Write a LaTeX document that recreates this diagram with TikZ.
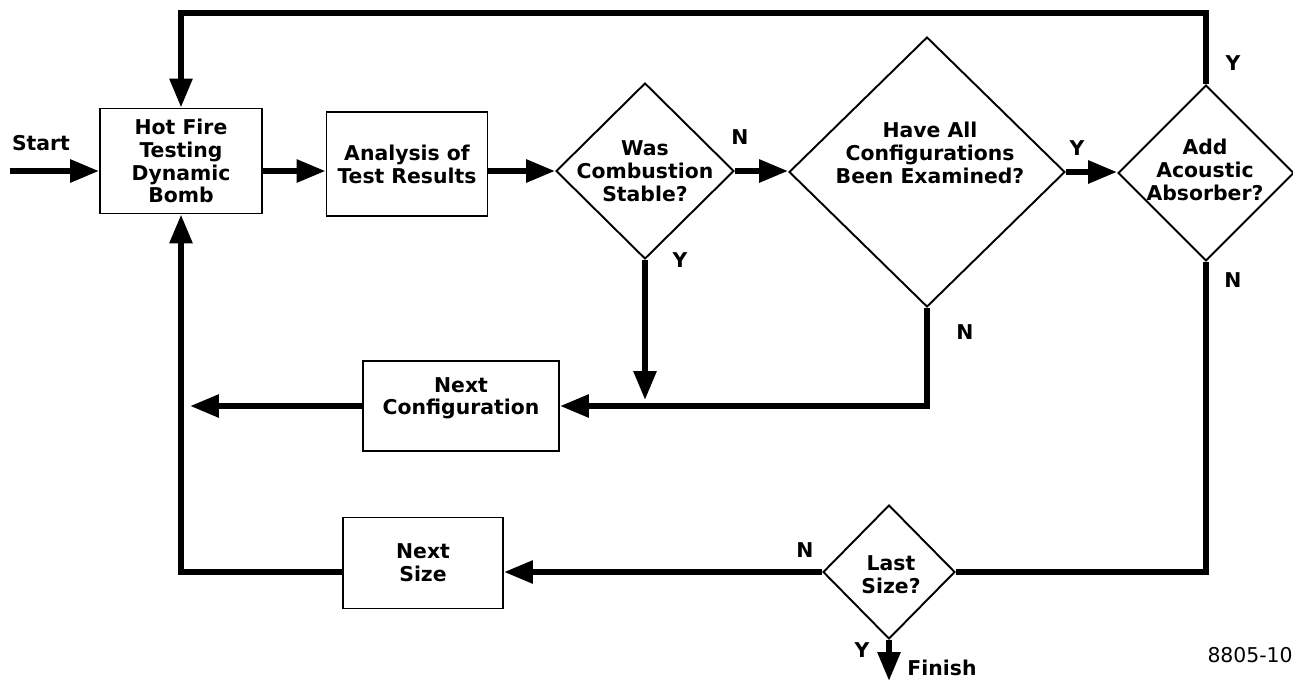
\documentclass[tikz,border=0pt]{standalone}
\usepackage{fontspec}
\setmainfont{DejaVu Sans}
\usetikzlibrary{arrows.meta,positioning,shapes.geometric}

\begin{document}
\begin{tikzpicture}[
  x=0.02cm,y=-0.02cm,
  font=\fontsize{11.6}{13}\selectfont\bfseries,
  box/.style={draw,line width=1.1pt,align=center,inner sep=0pt},
  dec/.style={draw,diamond,aspect=1,line width=1.1pt,inner sep=0pt},
  txt/.style={align=center,inner sep=0pt},
  lbl/.style={inner sep=0pt},
  flow/.style={line width=3.4pt},
  arr/.style={flow,-{Triangle[length=16.5pt,width=12.5pt]}}
]
\useasboundingbox (0,0) rectangle (1293,683);

\node[box,minimum width=3.24cm,minimum height=2.1cm] (hotfire) at (181,161) {Hot Fire\\Testing\\Dynamic\\Bomb};
\node[box,minimum width=3.22cm,minimum height=2.08cm] (analysis) at (407,164) {Analysis of\\Test Results};
\node[dec,minimum width=3.56cm,minimum height=3.52cm] (stable) at (645,171) {};
\node[dec,minimum width=5.52cm,minimum height=5.4cm] (allcfg) at (927,172) {};
\node[dec,minimum width=3.52cm,minimum height=3.52cm] (absorber) at (1206,173) {};
\node[box,minimum width=3.92cm,minimum height=1.8cm,text depth=0.4cm] (nextcfg) at (461,406) {Next\\Configuration};
\node[box,minimum width=3.2cm,minimum height=1.82cm] (nextsize) at (423,563) {Next\\Size};
\node[dec,minimum width=2.64cm,minimum height=2.68cm] (lastsize) at (889,572) {};

\node[txt] (stabletxt) at (645,171) {Was\\Combustion\\Stable?};
\node[txt] (allcfgtxt) at (930,153) {Have All\\Configurations\\Been Examined?};
\node[txt] (absorbertxt) at (1205,170) {Add\\Acoustic\\Absorber?};
\node[txt] (lastsizetxt) at (891,575) {Last\\Size?};

\node[lbl] (start) at (41,143) {Start};
\node[lbl] (finish) at (942,668) {Finish};
\node[lbl] (stableN) at (740,137) {N};
\node[lbl] (stableY) at (680,260) {Y};
\node[lbl] (allcfgY) at (1077,148) {Y};
\node[lbl] (allcfgN) at (965,332) {N};
\node[lbl] (absorberY) at (1233,63) {Y};
\node[lbl] (absorberN) at (1233,280) {N};
\node[lbl] (lastsizeN) at (805,550) {N};
\node[lbl] (lastsizeY) at (862,650) {Y};
\node[lbl,anchor=east,font=\fontsize{11.6}{13}\selectfont\mdseries] (fignum) at (1293,655) {8805-10};

\coordinate (startpt) at (10,171);
\coordinate (top) at (0,13);
\coordinate (cfgend) at (190,406);
\coordinate (stabletip) at (645,400);
\coordinate (finishpt) at (889,681);

\draw[arr] (startpt) -- (startpt -| hotfire.west);
\draw[arr] (hotfire.east |- stable) -- (analysis.west |- stable);
\draw[arr] (analysis.east |- stable) -- (stable.west);
\draw[arr] (stable.east) -- (stable.east -| allcfg.west);
\draw[arr] (allcfg.east) -- (allcfg.east -| absorber.west);
\draw[arr] (absorber.north) |- (top -| hotfire.north) -- (hotfire.north);
\draw[flow] (absorber.south) |- (lastsize.east);
\draw[arr] (lastsize.west) -- (lastsize.west -| nextsize.east);
\draw[arr] (nextsize.west |- lastsize) -| (hotfire.south);
\draw[arr] (lastsize.south) -- (finishpt);
\draw[arr] (stable.south) -- (stabletip);
\draw[arr] (allcfg.south) |- (nextcfg.east);
\draw[arr] (nextcfg.west) -- (cfgend);
\end{tikzpicture}
\end{document}
